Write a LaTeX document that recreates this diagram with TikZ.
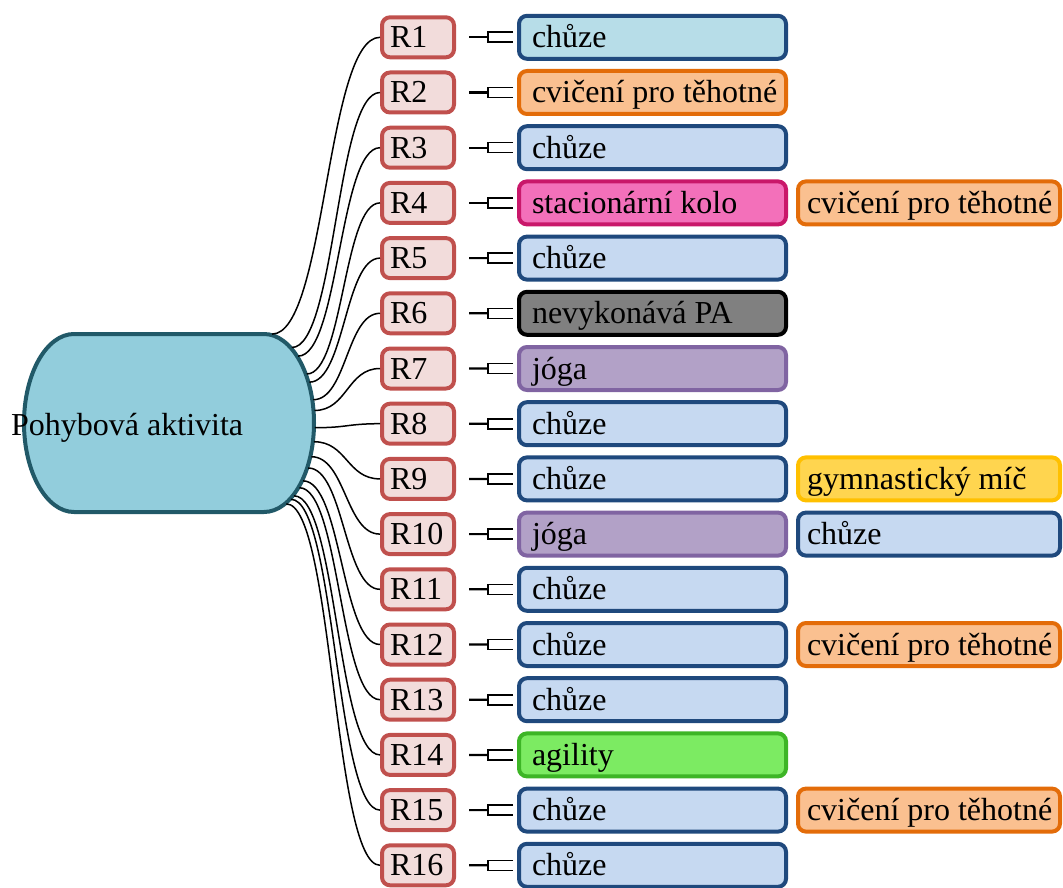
\documentclass[tikz,border=0pt]{standalone}
\usepackage{fontspec}
\setmainfont{Liberation Serif}
\usetikzlibrary{calc}

\definecolor{rowfill}{HTML}{F2DCDB}
\definecolor{rowdraw}{HTML}{C0504D}
\definecolor{hubfill}{HTML}{92CDDC}
\definecolor{hubdraw}{HTML}{215968}
\definecolor{bluedraw}{HTML}{1F497D}
\definecolor{walkfirst}{HTML}{B7DDE8}
\definecolor{walkfill}{HTML}{C6D9F1}
\definecolor{pregfill}{HTML}{FAC090}
\definecolor{pregdraw}{HTML}{E36C09}
\definecolor{bikefill}{HTML}{F370BA}
\definecolor{bikedraw}{HTML}{C9176A}
\definecolor{nonefill}{HTML}{808080}
\definecolor{yogafill}{HTML}{B2A1C7}
\definecolor{yogadraw}{HTML}{8064A2}
\definecolor{ballfill}{HTML}{FFD54F}
\definecolor{balldraw}{HTML}{FFC000}
\definecolor{agilfill}{HTML}{7CEB62}
\definecolor{agildraw}{HTML}{3DB526}

\newcommand\bodyfont{\fontsize{32pt}{38pt}\selectfont}
\newcommand\rlab[1]{\makebox[56pt][l]{#1}}
\newcommand\alab[1]{\makebox[241pt][l]{#1}}
\newcommand\blab[1]{\makebox[244pt][l]{#1}}

\tikzset{
  boxbase/.style={line width=4pt, rounded corners=8pt, inner ysep=0pt,
    text height=24pt, text depth=3pt, font=\bodyfont},
  rowbox/.style={boxbase, draw=rowdraw, fill=rowfill, minimum height=40pt, inner xsep=8pt},
  actbox/.style={boxbase, minimum height=43pt, inner xsep=13pt},
  extbox/.style={boxbase, minimum height=43pt, inner xsep=9pt},
  walkfirst/.style={draw=bluedraw, fill=walkfirst},
  walk/.style={draw=bluedraw, fill=walkfill},
  preg/.style={draw=pregdraw, fill=pregfill},
  bike/.style={draw=bikedraw, fill=bikefill},
  noact/.style={draw=black, fill=nonefill},
  yoga/.style={draw=yogadraw, fill=yogafill},
  ball/.style={draw=balldraw, fill=ballfill},
  agil/.style={draw=agildraw, fill=agilfill},
  wire/.style={line width=1.5pt, black},
  stem/.style={line width=2.2pt, black},
  fork/.style={line width=1.6pt, black},
}

\begin{document}
\begin{tikzpicture}[x=1pt, y=-1pt]
\useasboundingbox (0,0) rectangle (1063,888);

% central hub: flat top and bottom, elliptical sides
\node[minimum width=294pt, minimum height=182pt, inner sep=0pt] (pa) at (169,423) {};
\coordinate (pc) at (264,423);
\fill[hubfill, draw=hubdraw, line width=4pt]
  (74,334) -- (264,334) arc[start angle=-90, end angle=90, x radius=50, y radius=89]
  -- (74,512) arc[start angle=90, end angle=270, x radius=50, y radius=89] -- cycle;
\node[anchor=base west, inner sep=0pt, font=\bodyfont] (patext) at (11,435) {Pohybová aktivita};

% respondent boxes and their links to the hub
\foreach \i/\a in {1/81,2/57,3/48,4/33,5/27,6/15,7/8,8/-3,9/-12,10/-22,11/-30,12/-40,13/-46,14/-54,15/-58,16/-64}{
  \node[rowbox] (r\i) at (418,{37.3+55.2*(\i-1)}) {\rlab{R\i}};
  \path (pc) ++({51*cos(\a)},{-90*sin(\a)}) coordinate (s\i);
  \coordinate (m\i) at ($(s\i)!0.5!(r\i.west)$);
  \draw[wire] (s\i) .. controls (m\i |- s\i) and (m\i |- r\i.west) .. (r\i.west);
}

% activities, first column
\node[actbox, walkfirst] (a1) at (652.5,37.3)  {\alab{chůze}};
\node[actbox, preg]      (a2) at (652.5,92.5)  {\alab{cvičení pro těhotné}};
\node[actbox, walk]      (a3) at (652.5,147.7) {\alab{chůze}};
\node[actbox, bike]      (a4) at (652.5,202.9) {\alab{stacionární kolo}};
\node[actbox, walk]      (a5) at (652.5,258.1) {\alab{chůze}};
\node[actbox, noact]     (a6) at (652.5,313.3) {\alab{nevykonává PA}};
\node[actbox, yoga]      (a7) at (652.5,368.5) {\alab{jóga}};
\node[actbox, walk]      (a8) at (652.5,423.7) {\alab{chůze}};
\node[actbox, walk]      (a9) at (652.5,478.9) {\alab{chůze}};
\node[actbox, yoga]      (a10) at (652.5,534.1) {\alab{jóga}};
\node[actbox, walk]      (a11) at (652.5,589.3) {\alab{chůze}};
\node[actbox, walk]      (a12) at (652.5,644.5) {\alab{chůze}};
\node[actbox, walk]      (a13) at (652.5,699.7) {\alab{chůze}};
\node[actbox, agil]      (a14) at (652.5,754.9) {\alab{agility}};
\node[actbox, walk]      (a15) at (652.5,810.1) {\alab{chůze}};
\node[actbox, walk]      (a16) at (652.5,865.3) {\alab{chůze}};

% activities, second column
\node[extbox, preg] (b4)  at (929,202.9) {\blab{cvičení pro těhotné}};
\node[extbox, ball] (b9)  at (929,478.9) {\blab{gymnastický míč}};
\node[extbox, walk] (b10) at (929,534.1) {\blab{chůze}};
\node[extbox, preg] (b12) at (929,644.5) {\blab{cvičení pro těhotné}};
\node[extbox, preg] (b15) at (929,810.1) {\blab{cvičení pro těhotné}};

% short fork links between respondent and activity
\foreach \i in {1,...,16}{
  \draw[stem] ([xshift=13pt]r\i.east) -- ([xshift=-29pt]a\i.west);
  \draw[fork] ($(a\i.west)+(-4,-5)$) -- ++(-25,0) -- ++(0,10) -- ++(25,0);
}
\end{tikzpicture}
\end{document}
